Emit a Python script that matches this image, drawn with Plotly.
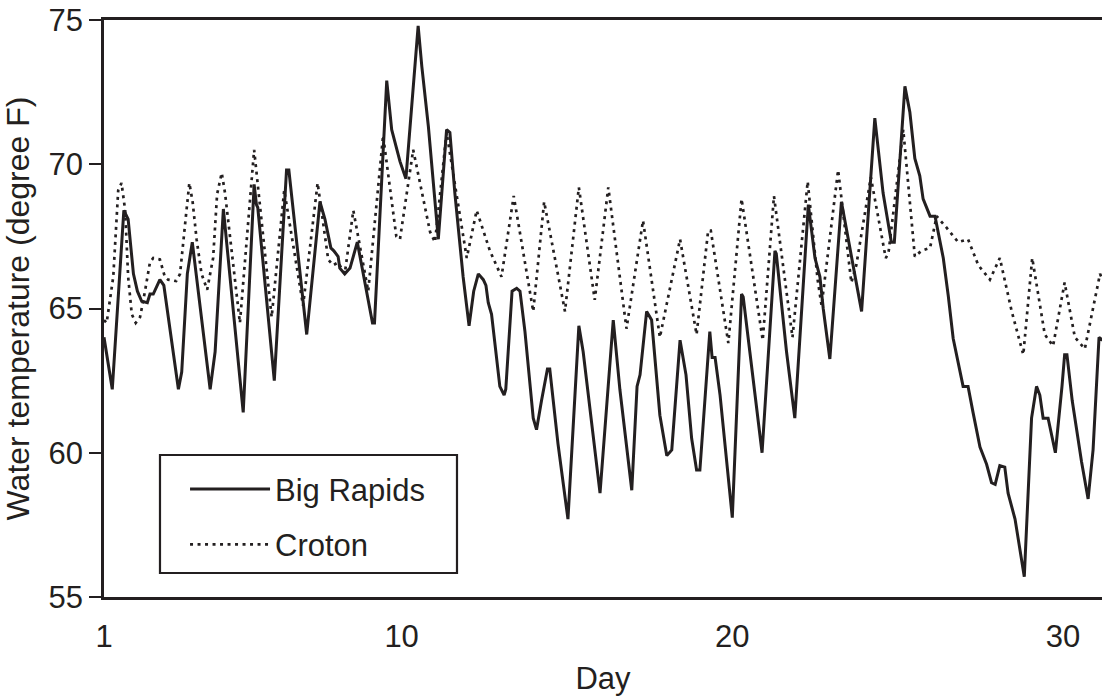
import plotly.graph_objects as go

# Big Rapids (solid line) - day, water temperature (degree F)
big_rapids_day = [
    1.00, 1.25, 1.60, 1.73, 1.89, 2.01, 2.14, 2.31, 2.39, 2.49, 2.69, 2.81,
    3.25, 3.35, 3.52, 3.67, 4.21, 4.36, 4.61, 5.21, 5.54, 5.61, 5.65, 6.15,
    6.52, 6.59, 7.13, 7.53, 7.68, 7.86, 7.95, 8.08, 8.13, 8.28, 8.44, 8.66,
    9.12, 9.18, 9.55, 9.70, 9.95, 10.13, 10.50, 10.61, 10.81, 11.08, 11.11,
    11.36, 11.46, 11.61, 11.86, 12.04, 12.18, 12.32, 12.47, 12.55, 12.62,
    12.72, 12.97, 13.10, 13.15, 13.34, 13.48, 13.58, 13.73, 13.98, 14.08,
    14.23, 14.41, 14.48, 14.73, 15.03, 15.36, 15.49, 16.00, 16.40, 16.60,
    16.96, 17.12, 17.21, 17.41, 17.56, 17.81, 18.02, 18.17, 18.42, 18.60,
    18.77, 18.92, 19.02, 19.32, 19.39, 19.48, 19.63, 20.00, 20.28, 20.33,
    20.53, 20.73, 20.90, 21.29, 21.33, 21.64, 21.89, 22.30, 22.50, 22.65,
    22.75, 22.95, 23.30, 23.70, 23.91, 24.31, 24.56, 24.81, 24.90, 25.22,
    25.37, 25.52, 25.67, 25.77, 25.98, 26.13, 26.38, 26.53, 26.68, 26.98,
    27.13, 27.28, 27.49, 27.69, 27.84, 27.95, 28.09, 28.24, 28.34, 28.55,
    28.83, 29.05, 29.20, 29.30, 29.40, 29.55, 29.70, 29.77, 29.97, 30.05,
    30.12, 30.28, 30.56, 30.76, 30.91, 31.09, 31.20,
]
big_rapids_temp = [
    64.0, 62.2, 68.4, 68.1, 66.2, 65.6, 65.25, 65.2, 65.5, 65.5, 66.0, 65.8,
    62.2, 62.8, 66.2, 67.3, 62.2, 63.5, 68.45, 61.4, 69.3, 68.6, 68.5, 62.5,
    69.8, 69.8, 64.1, 68.7, 68.1, 67.1, 67.0, 66.8, 66.4, 66.2, 66.4, 67.3,
    64.5, 64.5, 72.9, 71.2, 70.1, 69.5, 74.8, 73.4, 71.3, 67.7, 67.4,
    71.2, 71.1, 69.0, 66.1, 64.4, 65.6, 66.2, 66.0, 65.8, 65.2,
    64.8, 62.3, 62.0, 62.2, 65.6, 65.7, 65.6, 64.2, 61.2, 60.8,
    61.8, 62.9, 62.9, 60.3, 57.7, 64.4, 63.5, 58.6, 64.6, 62.2,
    58.7, 62.3, 62.7, 64.9, 64.6, 61.3, 59.9, 60.1, 63.9, 62.7,
    60.5, 59.4, 59.4, 64.2, 63.3, 63.3, 62.0, 57.75, 65.5, 65.4,
    63.5, 61.7, 60.0, 67.0, 66.9, 63.5, 61.2, 68.6, 66.75, 66.1,
    65.0, 63.25, 68.7, 66.2, 64.9, 71.6, 69.0, 67.3, 67.3, 72.7,
    71.8, 70.2, 69.6, 68.8, 68.2, 68.2, 66.75, 65.45, 63.96, 62.3,
    62.3, 61.4, 60.2, 59.6, 58.96, 58.9, 59.55, 59.5, 58.6, 57.7,
    55.7, 61.2, 62.3, 62.0, 61.2, 61.2, 60.4, 60.0, 62.3, 63.4,
    63.4, 61.8, 59.7, 58.4, 60.1, 64.0, 63.9,
]

# Croton (dotted line)
croton_day = [
    1.00, 1.08, 1.28, 1.43, 1.53, 1.64, 1.73, 1.84, 1.96, 2.09, 2.24, 2.39,
    2.49, 2.69, 2.84, 2.94, 3.18, 3.30, 3.45, 3.58, 3.68, 3.80, 3.95, 4.12,
    4.30, 4.42, 4.56, 4.66, 5.11, 5.54, 6.07, 6.45, 7.02, 7.46, 7.78, 7.93,
    8.08, 8.28, 8.54, 8.99, 9.44, 9.84, 9.95, 10.35, 10.86, 11.01, 11.36,
    11.97, 12.27, 12.67, 13.02, 13.39, 13.98, 14.31, 14.94, 15.36, 15.84,
    16.25, 16.80, 17.30, 17.81, 18.42, 18.92, 19.27, 19.35, 19.88, 20.28,
    20.92, 21.26, 21.82, 22.28, 22.58, 22.70, 23.20, 23.60, 23.75, 24.19,
    24.64, 24.72, 25.17, 25.52, 25.72, 25.98, 26.18, 26.48, 26.83, 27.13,
    27.44, 27.79, 28.09, 28.45, 28.80, 29.07, 29.45, 29.70, 30.05, 30.36,
    30.66, 31.12, 31.20,
]
croton_temp = [
    64.6, 64.5, 66.1, 69.1, 69.35, 68.4, 66.1, 64.8, 64.5, 64.7, 65.6, 66.6,
    66.75, 66.7, 66.1, 66.0, 65.95, 66.2, 67.9, 69.35, 68.7, 67.4, 66.2, 65.65,
    66.75, 68.96, 69.7, 69.0, 64.5, 70.5, 64.7, 69.1, 65.1, 69.35, 66.7, 66.5,
    66.6, 66.2, 68.4, 65.6, 71.0, 67.5, 67.4, 70.5, 67.66, 67.3, 71.1,
    66.75, 68.4, 67.0, 66.1, 68.9, 64.9, 68.7, 64.9, 69.2, 65.3,
    69.2, 64.3, 68.05, 64.0, 67.4, 64.1, 67.7, 67.7, 63.8, 68.8,
    63.9, 68.9, 64.0, 69.4, 66.0, 65.1, 69.8, 65.9, 66.5, 69.55,
    66.75, 66.9, 71.2, 66.8, 67.0, 67.1, 68.2, 67.8, 67.3, 67.4,
    66.5, 66.0, 66.75, 64.9, 63.4, 66.75, 64.1, 63.7, 65.9, 64.0,
    63.6, 66.2, 66.0,
]

x_ticks = [1, 10, 20, 30]
y_ticks = [55, 60, 65, 70, 75]

INK = "#231f20"
FONT = "Liberation Sans, Arial, Helvetica, sans-serif"

fig = go.Figure()
fig.add_trace(go.Scatter(
    x=big_rapids_day, y=big_rapids_temp, mode="lines", name="Big Rapids",
    legendgroup="a", line=dict(color=INK, width=3),
))
fig.add_trace(go.Scatter(
    x=croton_day, y=croton_temp, mode="lines", name="Croton",
    legendgroup="b", line=dict(color=INK, width=2.7, dash="3px,4.5px"),
))

# legend frame
fig.add_shape(
    type="rect", xref="paper", yref="paper",
    x0=0.0561, x1=0.3537, y0=0.0416, y1=0.2461,
    line=dict(color=INK, width=2.2), fillcolor="white", layer="above",
)

fig.update_layout(
    width=1102, height=696,
    margin=dict(l=104, r=0, t=20, b=99, autoexpand=False),
    paper_bgcolor="white", plot_bgcolor="white",
    font=dict(family=FONT, size=31, color=INK),
    showlegend=True,
    legend=dict(
        x=0.0812, y=0.2333, xanchor="left", yanchor="top",
        borderwidth=0, bgcolor="rgba(0,0,0,0)",
        font=dict(size=31, color=INK), itemwidth=80,
        traceorder="grouped", tracegroupgap=12,
    ),
)
fig.update_xaxes(
    range=[1, 31.18], tickvals=x_ticks, ticktext=[str(v) for v in x_ticks],
    showgrid=False, zeroline=False, showline=True, linecolor=INK, linewidth=2.5,
    mirror=True, ticks="", ticklabelstandoff=10, ticklabeloverflow="allow",
    title=dict(text="Day", font=dict(size=31)),
)
fig.update_yaxes(
    range=[55, 75], tickvals=y_ticks, ticktext=[str(v) for v in y_ticks],
    showgrid=False, zeroline=False, showline=True, linecolor=INK, linewidth=2.5,
    mirror=False, ticks="outside", ticklen=12, tickwidth=2, tickcolor=INK,
    ticklabeloverflow="allow",
    title=dict(text="Water temperature (degree F)", font=dict(size=32), standoff=14),
)

fig.write_html(
    "out.html",
    config={"displayModeBar": False},
    post_script="document.body.style.margin='0';document.body.style.padding='0';",
)
